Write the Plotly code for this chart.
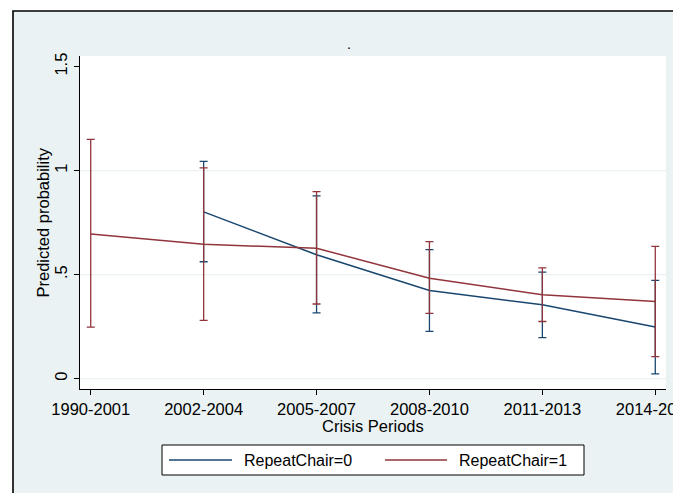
import plotly.graph_objects as go

# ---- data ----
periods = ["1990-2001", "2002-2004", "2005-2007", "2008-2010", "2011-2013", "2014-2016"]

rc0_mean = [None, 0.802, 0.596, 0.424, 0.355, 0.248]
rc0_upper = [None, 1.045, 0.879, 0.620, 0.512, 0.473]
rc0_lower = [None, 0.562, 0.316, 0.227, 0.197, 0.023]

rc1_mean = [0.696, 0.646, 0.627, 0.483, 0.403, 0.371]
rc1_upper = [1.150, 1.013, 0.899, 0.659, 0.533, 0.636]
rc1_lower = [0.248, 0.280, 0.359, 0.314, 0.275, 0.106]

y_ticks = [0, 0.5, 1, 1.5]
y_tick_text = ["0", ".5", "1", "1.5"]
grid_vals = [0, 0.5, 1]

series_names = ["RepeatChair=0", "RepeatChair=1"]

# ---- style ----
NAVY = "#1A476F"
MAROON = "#90353B"
BG = "#EAF2F3"
FONT = "Liberation Sans, Arial, sans-serif"

W, H = 673, 493
ML, MR, MT, MB = 80, 7, 56, 104
PW = W - ML - MR
PH = H - MT - MB


def px_x(px):
    return (px - ML) / PW


def px_y(py):
    return (H - MB - py) / PH


def err_plus(u, m):
    return [None if a is None else a - b for a, b in zip(u, m)]


def err_minus(l, m):
    return [None if a is None else b - a for a, b in zip(l, m)]


fig = go.Figure()

for mean, up, lo, col, name in [
    (rc0_mean, rc0_upper, rc0_lower, NAVY, series_names[0]),
    (rc1_mean, rc1_upper, rc1_lower, MAROON, series_names[1]),
]:
    fig.add_trace(go.Scatter(
        x=periods, y=mean, mode="lines", name=name,
        line=dict(color=col, width=1.5),
        error_y=dict(type="data", array=err_plus(up, mean),
                     arrayminus=err_minus(lo, mean), visible=True,
                     color=col, thickness=1.3, width=4),
        showlegend=False, connectgaps=False,
    ))

shapes = []
# outer framed background
shapes.append(dict(type="rect", xref="paper", yref="paper",
                   x0=px_x(13), x1=px_x(720), y0=px_y(540), y1=px_y(11),
                   fillcolor=BG, line=dict(color="#000000", width=1.6),
                   layer="below"))
# white plot region
shapes.append(dict(type="rect", xref="paper", yref="paper",
                   x0=0, x1=1, y0=0, y1=1, fillcolor="white",
                   line=dict(width=0), layer="below"))
# gridlines
for g in grid_vals:
    shapes.append(dict(type="line", xref="paper", yref="y", x0=0, x1=1,
                       y0=g, y1=g, line=dict(color=BG, width=1.2), layer="below"))
# legend box
shapes.append(dict(type="rect", xref="paper", yref="paper",
                   x0=px_x(162), x1=px_x(584), y0=px_y(475), y1=px_y(445),
                   fillcolor="white", line=dict(color="#000000", width=1)))
shapes.append(dict(type="line", xref="paper", yref="paper",
                   x0=px_x(169), x1=px_x(232), y0=px_y(460), y1=px_y(460),
                   line=dict(color=NAVY, width=1.5)))
shapes.append(dict(type="line", xref="paper", yref="paper",
                   x0=px_x(385), x1=px_x(447), y0=px_y(460), y1=px_y(460),
                   line=dict(color=MAROON, width=1.5)))

annotations = [
    dict(text="Predicted probability", xref="paper", yref="paper",
         x=px_x(42), y=px_y(222.5), textangle=-90, showarrow=False,
         font=dict(size=16.5, color="#000"), xanchor="center", yanchor="middle"),
    dict(text="Crisis Periods", xref="paper", yref="paper",
         x=px_x(372.5), y=px_y(426), showarrow=False,
         font=dict(size=16.5, color="#000"), xanchor="center", yanchor="middle"),
    dict(text=series_names[0], xref="paper", yref="paper",
         x=px_x(242), y=px_y(460), showarrow=False, xanchor="left",
         yanchor="middle", font=dict(size=16, color="#000")),
    dict(text=series_names[1], xref="paper", yref="paper",
         x=px_x(457), y=px_y(460), showarrow=False, xanchor="left",
         yanchor="middle", font=dict(size=16, color="#000")),
    dict(text=".", xref="paper", yref="paper",
         x=px_x(349), y=px_y(44), showarrow=False, xanchor="center",
         yanchor="middle", font=dict(size=14, color="#000")),
]

fig.update_layout(
    width=W, height=H,
    margin=dict(l=ML, r=MR, t=MT, b=MB, autoexpand=False),
    paper_bgcolor="white", plot_bgcolor="rgba(0,0,0,0)",
    font=dict(family=FONT, color="#000"),
    shapes=shapes, annotations=annotations,
    showlegend=False,
)
fig.update_xaxes(
    type="category", range=[-0.095, 5.095],
    showline=True, linecolor="#000", linewidth=1.2, mirror=False,
    ticks="outside", ticklen=5, tickcolor="#000", tickwidth=1,
    showgrid=False, zeroline=False, automargin=False,
    tickfont=dict(size=16.5, color="#000"),
)
fig.update_yaxes(
    range=[-0.0495, 1.551],
    tickvals=y_ticks, ticktext=y_tick_text, tickangle=-90,
    showline=True, linecolor="#000", linewidth=1.2,
    ticks="outside", ticklen=5, tickcolor="#000", tickwidth=1,
    showgrid=False, zeroline=False, automargin=False,
    tickfont=dict(size=16.5, color="#000"),
)

fig.write_html("out.html")
